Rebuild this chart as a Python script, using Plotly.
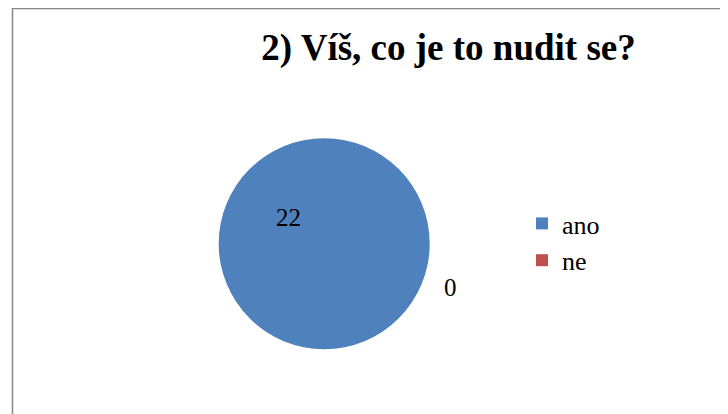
import plotly.graph_objects as go

# Data
categories = ["ano", "ne"]
values = [22, 0]
colors = ["#4F81BD", "#C0504D"]
title_text = "2) Víš, co je to nudit se?"

# browser body margin of 8px is compensated by a smaller figure
OFF = 8
W, H = 728 - OFF, 414 - OFF
FONT = "Liberation Serif"


def px(x):
    return (x - OFF) / W


def py(y):
    return 1 - (y - OFF) / H


# Pie geometry (reference pixels)
cx, cy, r = 324.2, 243.7, 105.5

fig = go.Figure()
fig.add_trace(go.Pie(
    labels=categories,
    values=values,
    marker=dict(colors=colors, line=dict(width=0)),
    sort=False,
    direction="clockwise",
    textinfo="none",
    hoverinfo="label+value",
    domain=dict(x=[px(cx - r), px(cx + r)],
                y=[py(cy + r), py(cy - r)]),
    showlegend=True,
))

# data labels (text from values)
label_pos = [(288, 217), (450.5, 287.5)]
for v, (lx, ly) in zip(values, label_pos):
    fig.add_annotation(
        x=px(lx), y=py(ly), xref="paper", yref="paper",
        text=str(v), showarrow=False,
        font=dict(family=FONT, size=25, color="black"),
        xanchor="center", yanchor="middle",
    )

# chart border (cropped on right/bottom)
fig.add_shape(type="rect", xref="paper", yref="paper",
              x0=px(12.5), x1=1.1, y0=-0.1, y1=py(8.5),
              line=dict(color="#868686", width=1.5), fillcolor="rgba(0,0,0,0)",
              layer="below")

fig.update_layout(
    width=W, height=H,
    margin=dict(l=0, r=0, t=0, b=0),
    paper_bgcolor="white",
    plot_bgcolor="white",
    title=dict(text="<b>" + title_text + "</b>",
               font=dict(family=FONT, size=37, color="black"),
               x=px(448.5), xanchor="center", xref="paper",
               y=py(47.5), yanchor="middle", yref="container"),
    legend=dict(
        x=px(522), y=py(200), xanchor="left", yanchor="top",
        font=dict(family=FONT, size=26, color="black"),
        bgcolor="rgba(0,0,0,0)", borderwidth=0,
    ),
)

fig.write_html("out.html")
